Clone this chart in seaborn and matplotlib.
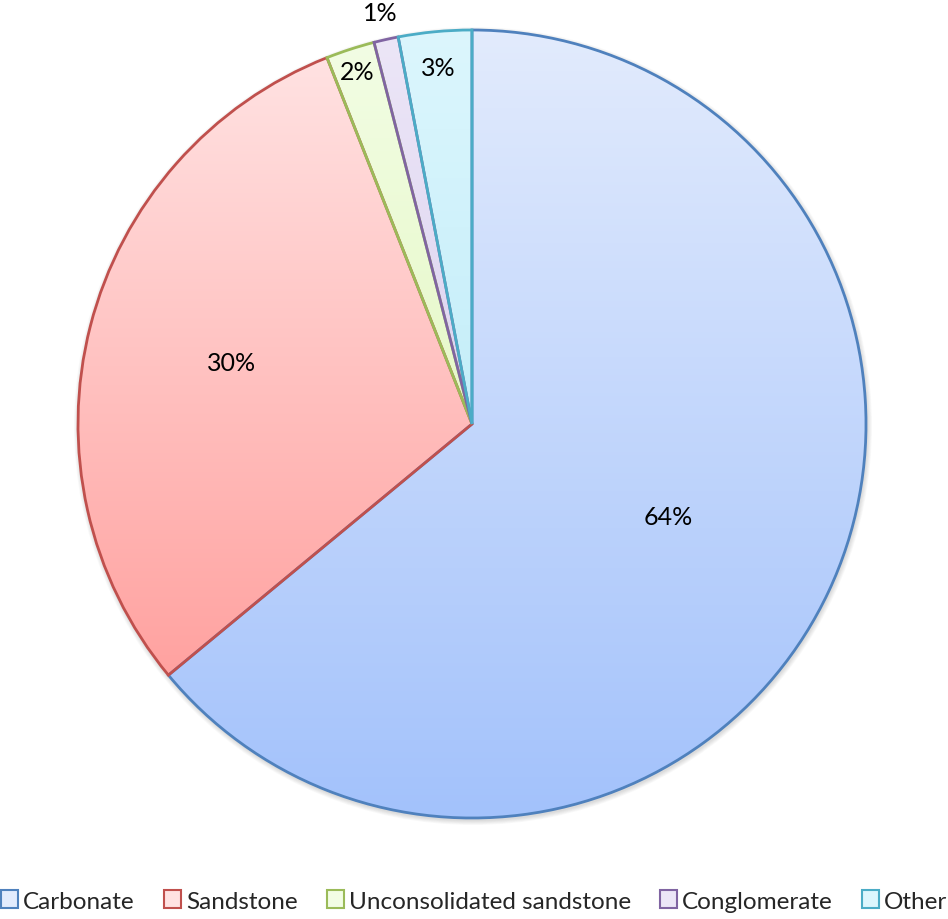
import numpy as np
import matplotlib
matplotlib.use("Agg")
import matplotlib.pyplot as plt
import matplotlib.colors as mcolors
from matplotlib.patches import Patch
import seaborn as sns

# data
categories = ["Carbonate", "Sandstone", "Unconsolidated sandstone", "Conglomerate", "Other"]
shares = [64, 30, 2, 1, 3]
labels = ["64%", "30%", "2%", "1%", "3%"]

# Office style colours: outline, gradient top, gradient bottom
edge_colors = ["#4f81bd", "#c0504d", "#9bbb59", "#8064a2", "#4bacc6"]
top_colors = ["#e2ebfd", "#ffe2e2", "#f2fde4", "#ece6f7", "#dcf6fd"]
bottom_colors = ["#a3c2fb", "#ffa2a0", "#e6f8c8", "#ddd3f0", "#c4eef9"]
label_dist = [0.55, 0.63, 0.94, 1.07, 0.91]

sns.set_theme(style="white")
plt.rcParams["font.family"] = ["Lato", "DejaVu Sans"]

fig = plt.figure(figsize=(9.48, 9.20), dpi=100)
ax = fig.add_axes([0, 0, 1, 1])

cx, cy, r = 472, 920 - 425, 394

wedges, _ = ax.pie(shares, startangle=90, counterclock=False, radius=r,
                   center=(cx, cy), frame=True,
                   wedgeprops=dict(linewidth=2, facecolor="none"))
ax.set_aspect("equal")
ax.axis("off")

# faint shadow behind the pie
for k in range(6):
    sh = plt.Circle((cx + 1, cy - 2), r + 1 + k * 0.8, color="black",
                    alpha=0.025, zorder=0, lw=0)
    ax.add_patch(sh)
ax.add_patch(plt.Circle((cx, cy), r, color="white", zorder=0.5, lw=0))

grad = np.linspace(0, 1, 256).reshape(-1, 1)
for w, ec, c0, c1, lab, d in zip(wedges, edge_colors, top_colors, bottom_colors, labels, label_dist):
    w.set_edgecolor(ec)
    w.set_zorder(3)
    # vertical gradient clipped to the wedge, spanning its own bbox
    ext = w.get_path().get_extents(w.get_patch_transform())
    cmap = mcolors.LinearSegmentedColormap.from_list("g", [c0, c1])
    im = ax.imshow(grad, cmap=cmap, aspect="auto", origin="upper",
                   extent=[ext.x0, ext.x1, ext.y0, ext.y1], zorder=2,
                   interpolation="bilinear")
    im.set_clip_path(w)
    mid = np.deg2rad((w.theta1 + w.theta2) / 2)
    ax.text(cx + d * r * np.cos(mid), cy + d * r * np.sin(mid), lab,
            ha="center", va="center", fontsize=18, color="black", zorder=5)

ax.set_xlim(0, 948)
ax.set_ylim(0, 920)

handles = [Patch(facecolor=tc, edgecolor=ec, linewidth=1.5, label=c)
           for c, ec, tc in zip(categories, edge_colors, top_colors)]
fig.legend(handles=handles, loc="center", bbox_to_anchor=(0.5, 1 - 902 / 920),
           ncol=5, frameon=False, fontsize=17.5, handlelength=0.7, handleheight=0.7,
           handletextpad=0.2, columnspacing=1.2, borderaxespad=0)

fig.savefig("out.png", dpi=100, facecolor="white")
